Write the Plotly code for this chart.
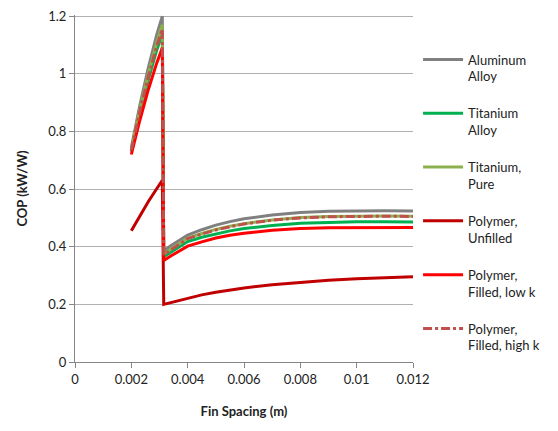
import plotly.graph_objects as go

fin_spacing = [0.002, 0.0023, 0.0026, 0.0029, 0.0031,
               0.00315, 0.0034, 0.0037, 0.004, 0.0045, 0.005, 0.0055,
               0.006, 0.007, 0.008, 0.009, 0.010, 0.011, 0.012]

aluminum_alloy = [0.744, 0.89, 1.02, 1.135, 1.2,
                  0.385, 0.403, 0.422, 0.44, 0.459, 0.475, 0.487,
                  0.497, 0.51, 0.519, 0.523, 0.525, 0.525, 0.524]
titanium_alloy = [0.73, 0.861, 0.978, 1.081, 1.14,
                  0.365, 0.381, 0.4, 0.418, 0.433, 0.445, 0.455,
                  0.463, 0.474, 0.481, 0.485, 0.487, 0.487, 0.486]
titanium_pure = [0.737, 0.876, 0.999, 1.108, 1.17,
                 0.375, 0.392, 0.412, 0.43, 0.446, 0.46, 0.471,
                 0.48, 0.493, 0.501, 0.505, 0.507, 0.507, 0.506]
polymer_unfilled = [0.455, 0.507, 0.556, 0.601, 0.63,
                    0.2, 0.206, 0.214, 0.222, 0.233, 0.242, 0.25,
                    0.257, 0.268, 0.277, 0.284, 0.289, 0.293, 0.296]
polymer_low_k = [0.72, 0.838, 0.944, 1.037, 1.09,
                 0.352, 0.368, 0.386, 0.402, 0.417, 0.43, 0.44,
                 0.447, 0.457, 0.463, 0.466, 0.467, 0.467, 0.467]
polymer_high_k = [0.735, 0.869, 0.989, 1.095, 1.155,
                  0.372, 0.389, 0.409, 0.428, 0.444, 0.458, 0.469,
                  0.479, 0.492, 0.5, 0.504, 0.506, 0.506, 0.505]

series = [
    ("Aluminum<br>Alloy", aluminum_alloy, "#808080", "solid"),
    ("Titanium<br>Alloy", titanium_alloy, "#00B050", "solid"),
    ("Titanium,<br>Pure", titanium_pure, "#8DB04F", "solid"),
    ("Polymer,<br>Unfilled", polymer_unfilled, "#C00000", "solid"),
    ("Polymer,<br>Filled, low k", polymer_low_k, "#FF0000", "solid"),
    ("Polymer,<br>Filled, high k", polymer_high_k, "#C0504D", "dashdot"),
]

fig = go.Figure()
for i, (name, vals, color, dash) in enumerate(series):
    fig.add_trace(go.Scatter(
        x=fin_spacing, y=vals, mode="lines", name=name,
        line=dict(color=color, width=3, dash=dash),
        legendgroup=f"g{i}",
    ))

font_family = "Lato, 'Open Sans', sans-serif"
fig.update_layout(
    width=550, height=423,
    margin=dict(l=67, r=145, t=7, b=69, autoexpand=False),
    paper_bgcolor="white", plot_bgcolor="white",
    font=dict(family=font_family, size=13, color="#222222"),
    showlegend=True,
    legend=dict(
        x=1.015, xanchor="left", y=0.915, yanchor="top",
        valign="top", tracegroupgap=17,
        bgcolor="rgba(0,0,0,0)",
        font=dict(family=font_family, size=13, color="#222222"),
        itemwidth=40,
    ),
    xaxis=dict(
        range=[0, 0.012], dtick=0.002, tick0=0, automargin=False,
        showgrid=False, zeroline=False,
        showline=True, linecolor="#868686", linewidth=1,
        ticks="outside", ticklen=5, tickcolor="#868686",
        title=dict(text="<b>Fin Spacing (m)</b>", standoff=21,
                   font=dict(family=font_family, size=13, color="#222222")),
    ),
    yaxis=dict(
        range=[0, 1.204], dtick=0.2, tick0=0, automargin=False,
        ticklabeloverflow="allow",
        showgrid=True, gridcolor="#B0B0B0", gridwidth=1, zeroline=False,
        showline=True, linecolor="#868686", linewidth=1,
        ticks="outside", ticklen=5, tickcolor="#868686",
        title=dict(text="<b>COP (kW/W)</b>", standoff=17,
                   font=dict(family=font_family, size=13, color="#222222")),
    ),
)

fig.write_html("out.html")
